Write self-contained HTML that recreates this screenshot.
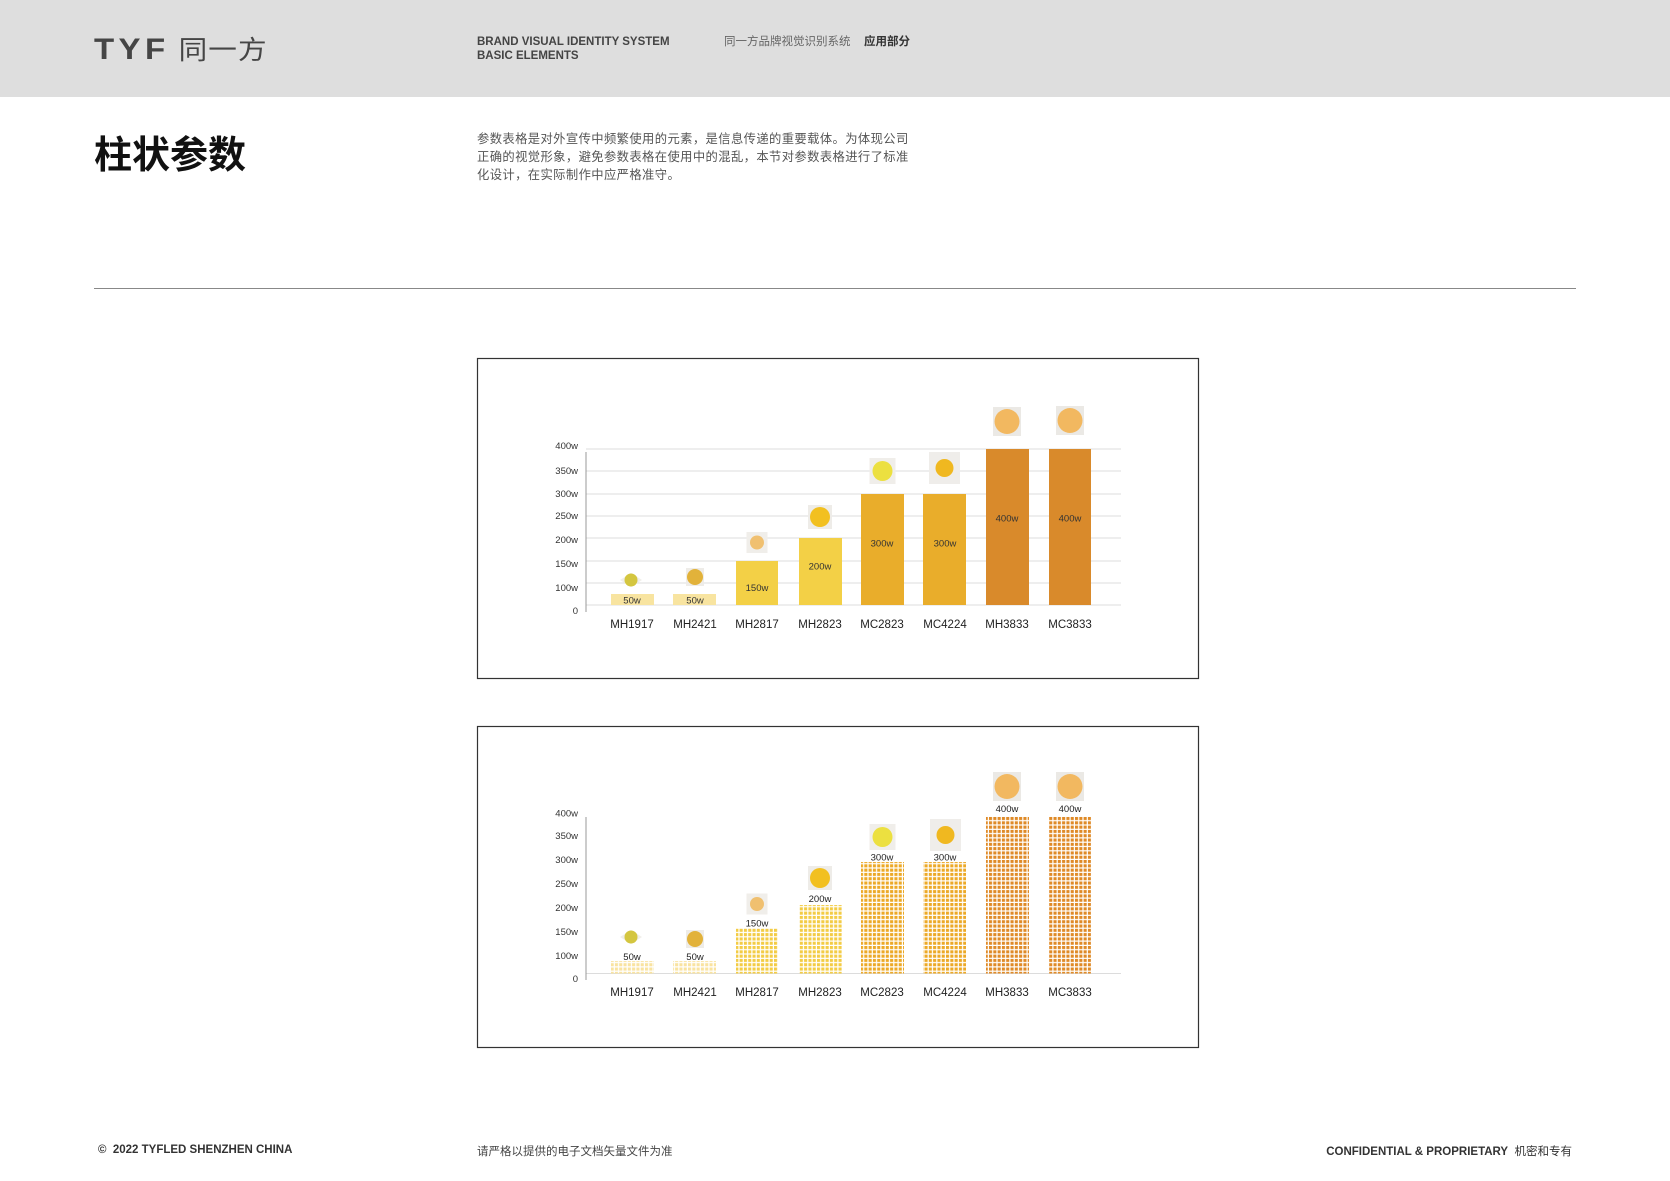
<!DOCTYPE html>
<html><head><meta charset="utf-8"><style>
html,body{margin:0;padding:0;background:#fff;}
body{width:1670px;height:1181px;position:relative;overflow:hidden;font-family:"Liberation Sans","Noto Sans CJK SC",sans-serif;}
.hdr{position:absolute;left:0;top:0;width:1670px;height:97px;background:#dedede;}
.abs{position:absolute;white-space:nowrap;}
</style></head><body>
<div class="hdr"></div>
<div class="abs" style="left:94px;top:30px;font-size:30px;color:#454545;letter-spacing:4px;font-weight:bold;transform:scaleX(1.1);transform-origin:left;">TYF<span style="font-weight:normal;letter-spacing:1px;font-size:26px;"> 同一方</span></div>
<div class="abs" style="left:477px;top:35px;font-size:11.5px;line-height:14px;color:#444;font-weight:bold;">BRAND VISUAL IDENTITY SYSTEM<br>BASIC ELEMENTS</div>
<div class="abs" style="left:724px;top:35px;font-size:11.5px;line-height:14px;color:#666;">同一方品牌视觉识别系统</div>
<div class="abs" style="left:864px;top:35px;font-size:11.5px;line-height:14px;color:#333;font-weight:bold;">应用部分</div>
<div class="abs" style="left:94px;top:124px;font-size:38px;font-weight:bold;color:#111;">柱状参数</div>
<div class="abs" style="left:477px;top:130px;font-size:12.3px;letter-spacing:0.4px;line-height:18px;color:#555;white-space:normal;width:436px;">参数表格是对外宣传中频繁使用的元素，是信息传递的重要载体。为体现公司正确的视觉形象，避免参数表格在使用中的混乱，本节对参数表格进行了标准化设计，在实际制作中应严格准守。</div>
<div class="abs" style="left:94px;top:288px;width:1482px;height:1px;background:#888;"></div>
<div class="abs" style="left:98px;top:1144px;font-size:11.5px;color:#333;font-weight:bold;">©&nbsp; 2022 TYFLED SHENZHEN CHINA</div>
<div class="abs" style="left:477px;top:1143px;font-size:11.5px;color:#444;">请严格以提供的电子文档矢量文件为准</div>
<div class="abs" style="right:98px;top:1143px;font-size:11.5px;color:#333;"><b>CONFIDENTIAL &amp; PROPRIETARY</b>&nbsp; 机密和专有</div>

<svg style="position:absolute;left:0;top:0" width="1670" height="1181" xmlns="http://www.w3.org/2000/svg" font-family="Liberation Sans, sans-serif">
<defs>
<pattern id="p1" width="4.3" height="4.3" patternUnits="userSpaceOnUse"><rect width="3.1" height="3.1" fill="#f9e3a0"/></pattern>
<pattern id="p2" width="4.3" height="4.3" patternUnits="userSpaceOnUse"><rect width="3.1" height="3.1" fill="#f3cc45"/></pattern>
<pattern id="p3" width="4.3" height="4.3" patternUnits="userSpaceOnUse"><rect width="3.1" height="3.1" fill="#eca927"/></pattern>
<pattern id="p4" width="4.3" height="4.3" patternUnits="userSpaceOnUse"><rect width="3.1" height="3.1" fill="#df8a27"/></pattern>
</defs>
<rect x="477.5" y="358.5" width="721" height="320" fill="none" stroke="#333" stroke-width="1.2"/>
<rect x="477.5" y="726.5" width="721" height="321" fill="none" stroke="#333" stroke-width="1.2"/>

<!-- chart 1 -->
<g stroke="#dcdcdc" stroke-width="1">
<line x1="586" y1="449" x2="1121" y2="449"/><line x1="586" y1="471" x2="1121" y2="471"/>
<line x1="586" y1="494" x2="1121" y2="494"/><line x1="586" y1="516" x2="1121" y2="516"/>
<line x1="586" y1="538" x2="1121" y2="538"/><line x1="586" y1="561" x2="1121" y2="561"/>
<line x1="586" y1="583" x2="1121" y2="583"/><line x1="586" y1="605" x2="1121" y2="605"/>
</g>
<line x1="586" y1="452" x2="586" y2="612" stroke="#999"/>
<g font-size="9.5" fill="#333" text-anchor="end">
<text x="578" y="449">400w</text><text x="578" y="474">350w</text><text x="578" y="497">300w</text>
<text x="578" y="519">250w</text><text x="578" y="543">200w</text><text x="578" y="567">150w</text>
<text x="578" y="591">100w</text><text x="578" y="614">0</text></g>
<rect x="611" y="594" width="43" height="11" fill="#f8e4a0"/>
<rect x="673" y="594" width="43" height="11" fill="#f8e4a0"/>
<rect x="736" y="561" width="42" height="44" fill="#f3d046"/>
<rect x="799" y="538" width="43" height="67" fill="#f3d046"/>
<rect x="861" y="494" width="43" height="111" fill="#e9ad2b"/>
<rect x="923" y="494" width="43" height="111" fill="#e9ad2b"/>
<rect x="986" y="449" width="43" height="156" fill="#d98a2b"/>
<rect x="1049" y="449" width="42" height="156" fill="#d98a2b"/>
<g font-size="9.5" fill="#333" text-anchor="middle">
<text x="632" y="603.5">50w</text><text x="695" y="603.5">50w</text><text x="757" y="591">150w</text>
<text x="820" y="569.5">200w</text><text x="882" y="546.5">300w</text><text x="945" y="546.5">300w</text>
<text x="1007" y="521.5">400w</text><text x="1070" y="521.5">400w</text></g>
<g font-size="11.5" fill="#222" text-anchor="middle">
<text x="632" y="628">MH1917</text><text x="695" y="628">MH2421</text><text x="757" y="628">MH2817</text>
<text x="820" y="628">MH2823</text><text x="882" y="628">MC2823</text><text x="945" y="628">MC4224</text>
<text x="1007" y="628">MH3833</text><text x="1070" y="628">MC3833</text></g>
<g>
<polygon points="620,580 631,573 642,580 631,587" fill="#f0efea"/><circle cx="631" cy="580" r="6.5" fill="#d4c640"/>
<rect x="686" y="568" width="18" height="18" fill="#eeece8"/><circle cx="695" cy="577" r="8" fill="#e2b23a"/>
<rect x="746.5" y="532" width="21" height="21" fill="#f0eeea"/><circle cx="757" cy="542.5" r="7" fill="#f0c070"/>
<rect x="808" y="505" width="24" height="24" fill="#eeece8"/><circle cx="820" cy="517" r="10" fill="#f2c020"/>
<rect x="869.5" y="458" width="26" height="26" fill="#f0eeea"/><circle cx="882.5" cy="471" r="10" fill="#ece040"/>
<rect x="929" y="452" width="31" height="32" fill="#efedea"/><circle cx="944.5" cy="468" r="9" fill="#f0b820"/>
<rect x="993" y="407" width="28" height="29" fill="#ebe9e5"/><circle cx="1007" cy="421.5" r="12.5" fill="#f2b860"/>
<rect x="1056" y="406" width="28" height="29" fill="#ebe9e5"/><circle cx="1070" cy="420.5" r="12.5" fill="#f2b860"/>
</g>

<!-- chart 2 -->
<line x1="586" y1="973.5" x2="1121" y2="973.5" stroke="#dcdcdc"/>
<line x1="586" y1="817" x2="586" y2="980" stroke="#999"/>
<g font-size="9.5" fill="#333" text-anchor="end">
<text x="578" y="816.5">400w</text><text x="578" y="839">350w</text><text x="578" y="863">300w</text>
<text x="578" y="887">250w</text><text x="578" y="911">200w</text><text x="578" y="935">150w</text>
<text x="578" y="959">100w</text><text x="578" y="982">0</text></g>
<rect x="611" y="961" width="43" height="12.5" fill="url(#p1)"/>
<rect x="673" y="961" width="43" height="12.5" fill="url(#p1)"/>
<rect x="736" y="928" width="42" height="45.5" fill="url(#p2)"/>
<rect x="799" y="905" width="43" height="68.5" fill="url(#p2)"/>
<rect x="861" y="862" width="43" height="111.5" fill="url(#p3)"/>
<rect x="923" y="862" width="43" height="111.5" fill="url(#p3)"/>
<rect x="986" y="816" width="43" height="157.5" fill="url(#p4)"/>
<rect x="1049" y="816" width="42" height="157.5" fill="url(#p4)"/>
<g font-size="9.5" fill="#222" text-anchor="middle">
<text x="632" y="960">50w</text><text x="695" y="960">50w</text><text x="757" y="926.5">150w</text>
<text x="820" y="902">200w</text><text x="882" y="860.5">300w</text><text x="945" y="860.5">300w</text>
<text x="1007" y="812">400w</text><text x="1070" y="812">400w</text></g>
<g font-size="11.5" fill="#222" text-anchor="middle">
<text x="632" y="996">MH1917</text><text x="695" y="996">MH2421</text><text x="757" y="996">MH2817</text>
<text x="820" y="996">MH2823</text><text x="882" y="996">MC2823</text><text x="945" y="996">MC4224</text>
<text x="1007" y="996">MH3833</text><text x="1070" y="996">MC3833</text></g>
<g>
<polygon points="620,937 631,930 642,937 631,944" fill="#f0efea"/><circle cx="631" cy="937" r="6.5" fill="#d4c640"/>
<rect x="686" y="930" width="18" height="18" fill="#eeece8"/><circle cx="695" cy="939" r="8" fill="#e2b23a"/>
<rect x="746.5" y="893.5" width="21" height="21" fill="#f0eeea"/><circle cx="757" cy="904" r="7" fill="#f0c070"/>
<rect x="808" y="866" width="24" height="24" fill="#eeece8"/><circle cx="820" cy="878" r="10" fill="#f2c020"/>
<rect x="869.5" y="824" width="26" height="26" fill="#f0eeea"/><circle cx="882.5" cy="837" r="10" fill="#ece040"/>
<rect x="930" y="819" width="31" height="32" fill="#efedea"/><circle cx="945.5" cy="835" r="9" fill="#f0b820"/>
<rect x="993" y="772" width="28" height="29" fill="#ebe9e5"/><circle cx="1007" cy="786.5" r="12.5" fill="#f2b860"/>
<rect x="1056" y="772" width="28" height="29" fill="#ebe9e5"/><circle cx="1070" cy="786.5" r="12.5" fill="#f2b860"/>
</g>
</svg>
</body></html>
